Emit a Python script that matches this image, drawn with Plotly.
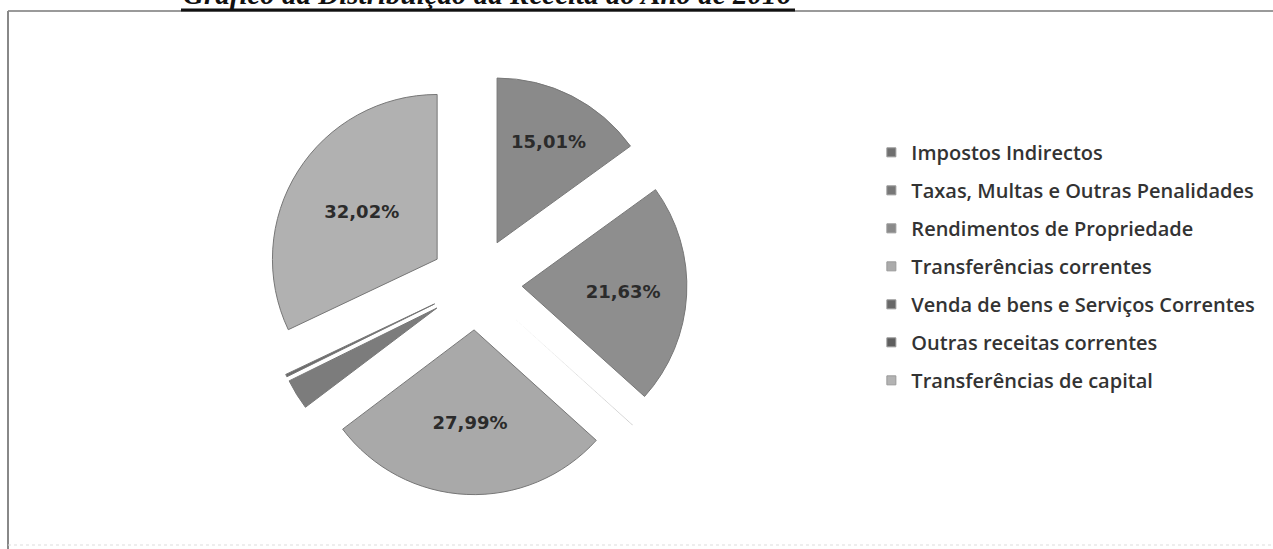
import plotly.graph_objects as go

categories = [
    "Impostos Indirectos",
    "Taxas, Multas e Outras Penalidades",
    "Rendimentos de Propriedade",
    "Transferências correntes",
    "Venda de bens e Serviços Correntes",
    "Outras receitas correntes",
    "Transferências de capital",
]
values = [15.01, 21.63, 0.03, 27.99, 3.00, 0.25, 32.02]
value_labels = ["15,01%", "21,63%", "", "27,99%", "", "", "32,02%"]
slice_colors = ["#8a8a8a", "#8e8e8e", "#999999", "#a9a9a9", "#7c7c7c", "#6c6c6c", "#b1b1b1"]
border_widths = [1, 1, 0, 1, 1, 1, 1]
legend_colors = ["#6f6f6f", "#777777", "#8a8a8a", "#ababab", "#686868", "#5e5e5e", "#b3b3b3"]
title_text = "Gráfico da Distribuição da Receita do Ano de 2016"

W, H = 1273, 549
fig = go.Figure()

fig.add_trace(go.Pie(
    labels=categories,
    values=values,
    text=value_labels,
    textinfo="text",
    texttemplate="%{text}",
    textposition="inside",
    insidetextorientation="horizontal",
    sort=False,
    direction="clockwise",
    rotation=0,
    pull=[0.28] * len(values),
    marker=dict(colors=slice_colors, line=dict(color="#777777", width=border_widths)),
    textfont=dict(family="DejaVu Sans", size=18, color="#2b2b2b", weight="bold"),
    domain=dict(x=[0.208, 0.540], y=[0.099, 0.867]),
    showlegend=False,
    hoverinfo="label+percent",
))

for i, (name, col) in enumerate(zip(categories, legend_colors)):
    fig.add_trace(go.Scatter(
        x=[None], y=[None], mode="markers", name=name,
        legendgroup=f"g{i}",
        marker=dict(symbol="square", size=9, color=col, line=dict(color="#999999", width=1)),
    ))

fig.update_layout(
    width=W, height=H,
    margin=dict(l=0, r=0, t=0, b=0),
    paper_bgcolor="white",
    plot_bgcolor="white",
    xaxis=dict(visible=False),
    yaxis=dict(visible=False),
    legend=dict(
        x=0.6845, y=0.758, xanchor="left", yanchor="top",
        font=dict(family="Open Sans", size=20, color="#333333", weight=600),
        tracegroupgap=9, itemwidth=30,
        bgcolor="rgba(0,0,0,0)",
    ),
    shapes=[
        dict(type="line", xref="paper", yref="paper", x0=8/W, x1=1, y0=1-11/H, y1=1-11/H,
             line=dict(color="#9a9a9a", width=2)),
        dict(type="line", xref="paper", yref="paper", x0=8/W, x1=8/W, y0=0, y1=1-11/H,
             line=dict(color="#888888", width=2)),
        dict(type="line", xref="paper", yref="paper", x0=181/W, x1=795/W, y0=1-10/H, y1=1-10/H,
             line=dict(color="#111111", width=3)),
        dict(type="line", xref="paper", yref="paper", x0=8/W, x1=1, y0=4/H, y1=4/H,
             line=dict(color="#dddddd", width=1, dash="dot")),
    ],
    annotations=[
        dict(text=title_text, xref="paper", yref="paper", x=487/W, y=1, xanchor="center",
             yanchor="bottom", yshift=-12, showarrow=False,
             font=dict(family="Liberation Serif", size=29, color="#111111", style="italic", weight="bold")),
    ],
)

fig.write_html("out.html", post_script="document.body.style.margin='0';",
               config={"displayModeBar": False})
